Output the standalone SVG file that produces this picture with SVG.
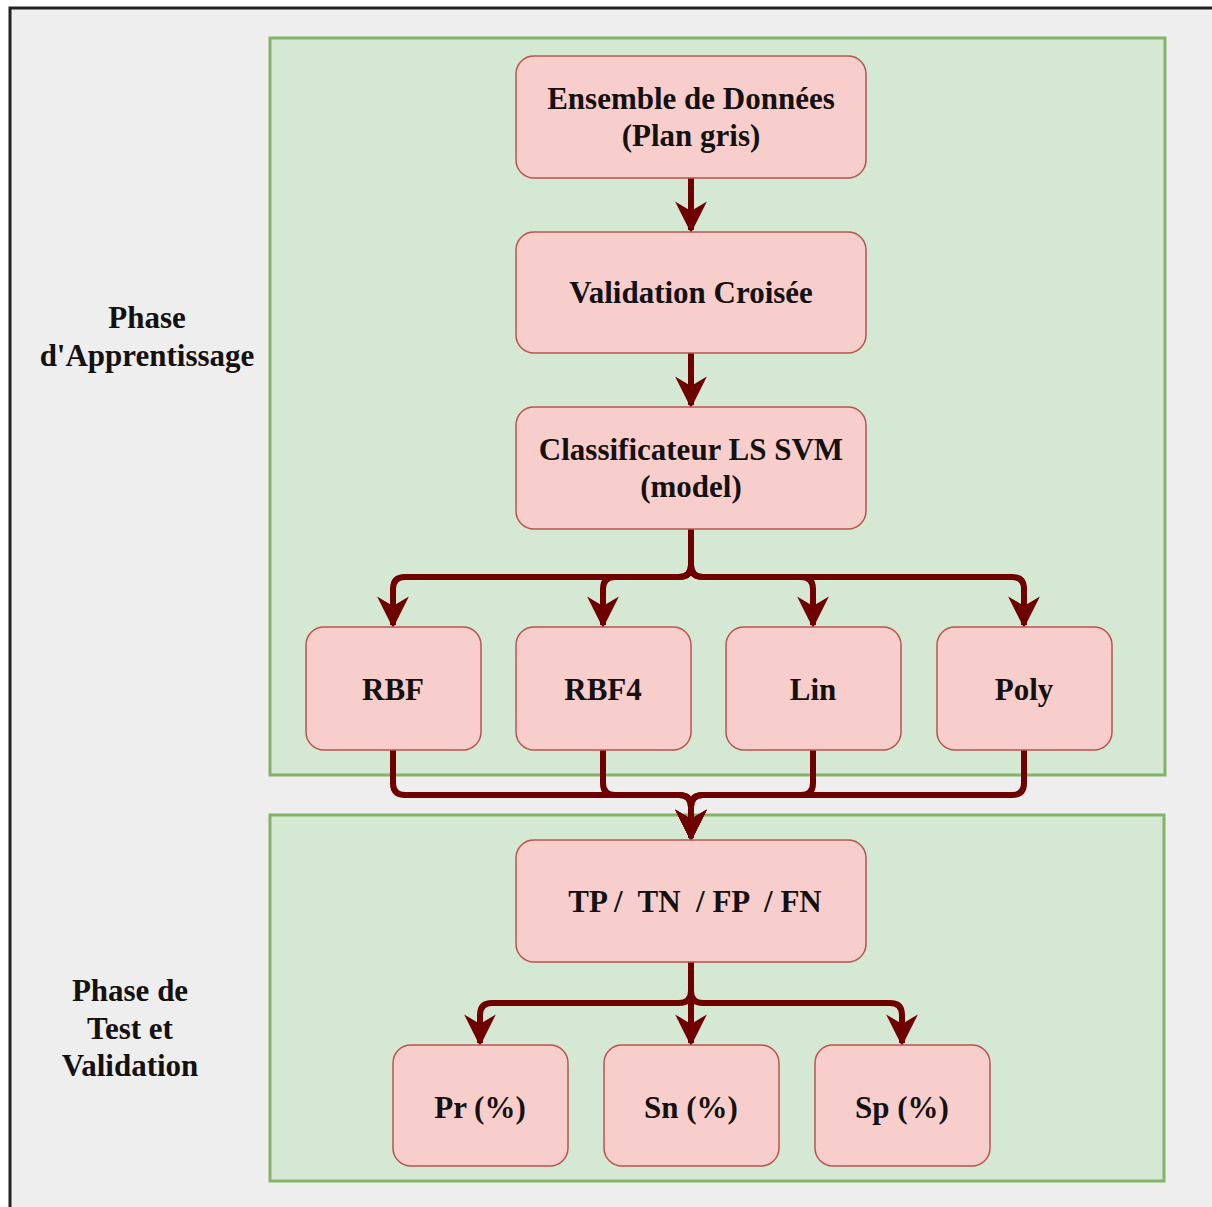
<svg xmlns="http://www.w3.org/2000/svg" width="1212" height="1207" viewBox="0 0 1212 1207">
  <defs>
    <marker id="ah" viewBox="0 0 10 10" refX="9" refY="5" markerWidth="5.3" markerHeight="5.3" markerUnits="strokeWidth" orient="auto">
      <path d="M0,0 L10,5 L0,10 L3,5 Z" fill="#6f0000"/>
    </marker>
  </defs>
  <style>
    .frame { fill: #eeeeee; stroke: #222222; stroke-width: 3; }
    .phase { fill: #d5e8d4; stroke: #82b366; stroke-width: 3; }
    .box { fill: #f8cecc; stroke: #b85450; stroke-width: 1.5; }
    .lbl { font-family: "Liberation Serif", "DejaVu Serif", serif; font-weight: bold; font-size: 31px; fill: #151111; text-anchor: middle; }
    .edge { fill: none; stroke: #6f0000; stroke-width: 6; stroke-linejoin: round; }
    .arr { marker-end: url(#ah); }
  </style>

  <rect x="0" y="0" width="1212" height="1207" fill="#ffffff"/>
  <rect class="frame" x="10" y="8" width="1220" height="1220"/>

  <!-- phase panels -->
  <g id="phase-apprentissage">
    <rect class="phase" x="270" y="38" width="895" height="737"/>
    <text class="lbl" x="147" y="328">Phase</text>
    <text class="lbl" x="147" y="366">d'Apprentissage</text>
  </g>
  <g id="phase-test">
    <rect class="phase" x="270" y="815" width="894" height="366"/>
    <text class="lbl" x="130" y="1001">Phase de</text>
    <text class="lbl" x="130" y="1039">Test et</text>
    <text class="lbl" x="130" y="1076">Validation</text>
  </g>

  <!-- connectors -->
  <g id="connectors">
    <path class="edge arr" d="M691,178 L691,230"/>
    <path class="edge arr" d="M691,353 L691,405"/>
    <path class="edge arr" d="M691,529 L691,565 Q691,577 679,577 L405,577 Q393,577 393,589 L393,625"/>
    <path class="edge arr" d="M691,529 L691,565 Q691,577 679,577 L615,577 Q603,577 603,589 L603,625"/>
    <path class="edge arr" d="M691,529 L691,565 Q691,577 703,577 L801,577 Q813,577 813,589 L813,625"/>
    <path class="edge arr" d="M691,529 L691,565 Q691,577 703,577 L1012,577 Q1024,577 1024,589 L1024,625"/>
    <path class="edge arr" d="M393,750 L393,783 Q393,795 405,795 L679,795 Q691,795 691,807 L691,838"/>
    <path class="edge arr" d="M603,750 L603,783 Q603,795 615,795 L679,795 Q691,795 691,807 L691,838"/>
    <path class="edge arr" d="M813,750 L813,783 Q813,795 801,795 L703,795 Q691,795 691,807 L691,838"/>
    <path class="edge arr" d="M1024,750 L1024,783 Q1024,795 1012,795 L703,795 Q691,795 691,807 L691,838"/>
    <path class="edge arr" d="M691,962 L691,991 Q691,1003 679,1003 L492,1003 Q480,1003 480,1015 L480,1043"/>
    <path class="edge arr" d="M691,962 L691,1043"/>
    <path class="edge arr" d="M691,962 L691,991 Q691,1003 703,1003 L890,1003 Q902,1003 902,1015 L902,1043"/>
  </g>

  <!-- nodes -->
  <g id="ensemble">
    <rect class="box" x="516" y="56" width="350" height="122" rx="18"/>
    <text class="lbl" x="691" y="109">Ensemble de Données</text>
    <text class="lbl" x="691" y="146">(Plan gris)</text>
  </g>
  <g id="validation">
    <rect class="box" x="516" y="232" width="350" height="121" rx="18"/>
    <text class="lbl" x="691" y="303">Validation Croisée</text>
  </g>
  <g id="classificateur">
    <rect class="box" x="516" y="407" width="350" height="122" rx="18"/>
    <text class="lbl" x="691" y="460">Classificateur LS SVM</text>
    <text class="lbl" x="691" y="497">(model)</text>
  </g>
  <g id="rbf">
    <rect class="box" x="306" y="627" width="175" height="123" rx="18"/>
    <text class="lbl" x="393" y="700">RBF</text>
  </g>
  <g id="rbf4">
    <rect class="box" x="516" y="627" width="175" height="123" rx="18"/>
    <text class="lbl" x="603" y="700">RBF4</text>
  </g>
  <g id="lin">
    <rect class="box" x="726" y="627" width="175" height="123" rx="18"/>
    <text class="lbl" x="813" y="700">Lin</text>
  </g>
  <g id="poly">
    <rect class="box" x="937" y="627" width="175" height="123" rx="18"/>
    <text class="lbl" x="1024" y="700">Poly</text>
  </g>
  <g id="confusion">
    <rect class="box" x="516" y="840" width="350" height="122" rx="18"/>
    <text class="lbl" x="695" y="912" xml:space="preserve">TP /  TN  / FP  / FN</text>
  </g>
  <g id="precision">
    <rect class="box" x="393" y="1045" width="175" height="121" rx="18"/>
    <text class="lbl" x="480" y="1118">Pr (%)</text>
  </g>
  <g id="sensibilite">
    <rect class="box" x="604" y="1045" width="175" height="121" rx="18"/>
    <text class="lbl" x="691" y="1118">Sn (%)</text>
  </g>
  <g id="specificite">
    <rect class="box" x="815" y="1045" width="175" height="121" rx="18"/>
    <text class="lbl" x="902" y="1118">Sp (%)</text>
  </g>
</svg>
